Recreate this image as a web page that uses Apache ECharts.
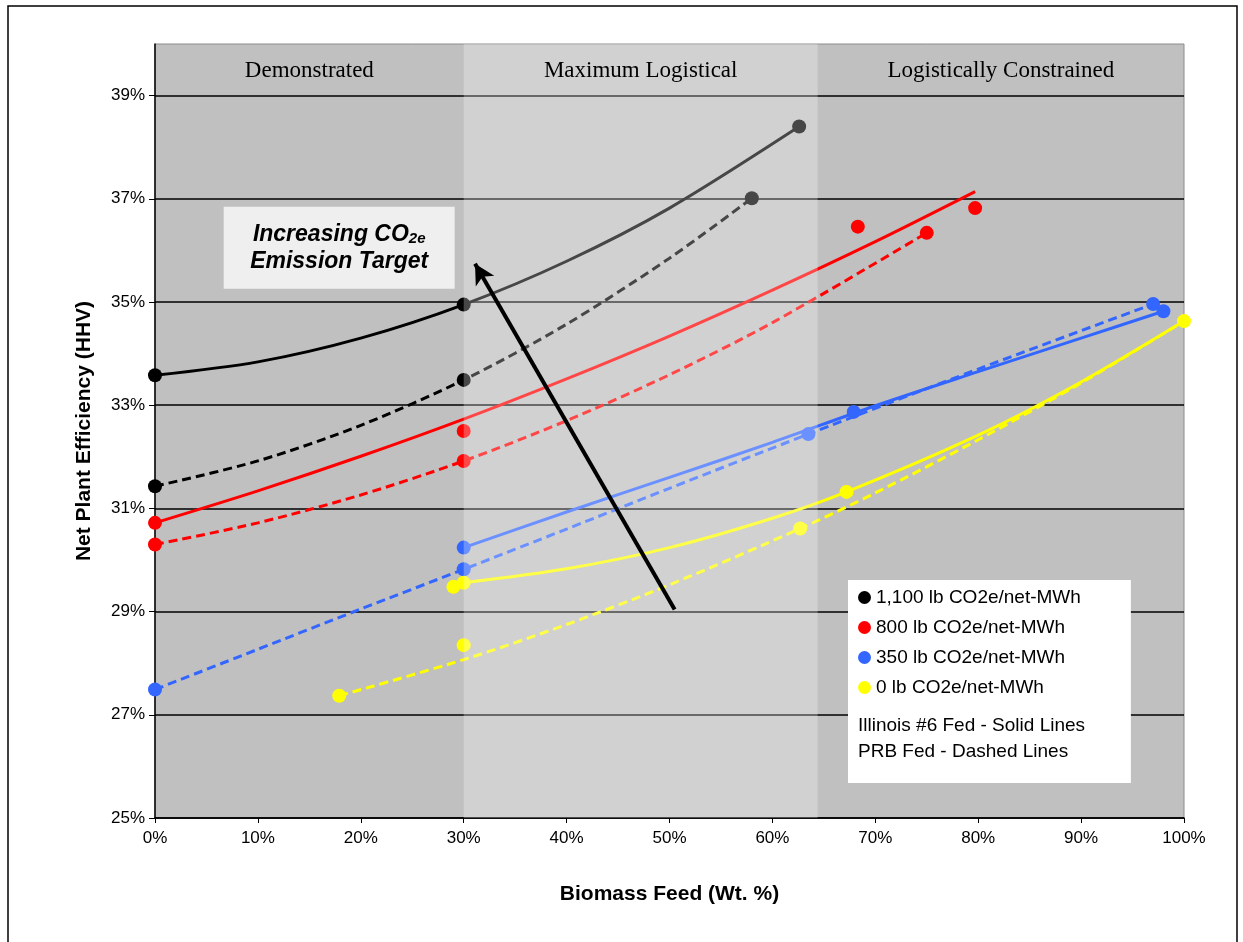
<!DOCTYPE html>
<html>
<head>
<meta charset="utf-8">
<script src="https://cdn.jsdelivr.net/npm/echarts@6/dist/echarts.min.js"></script>
<style>
  html, body { margin: 0; padding: 0; background: #fff; }
  #chart { width: 1243px; height: 942px; }
</style>
</head>
<body>
<div id="chart"></div>
<script>
// legend names
var names = ['1,100 lb CO2e/net-MWh', '800 lb CO2e/net-MWh', '350 lb CO2e/net-MWh', '0 lb CO2e/net-MWh']
var colors = ['#000000', '#ff0000', '#3366ff', '#ffff00']

// region bands along x (biomass %)
var regionNames = ['Demonstrated', 'Maximum Logistical', 'Logistically Constrained']
var regionEdges = [0, 30, 64.4, 100]

// data points (biomass %, efficiency %)
var blackPts = [[0, 33.58], [0, 31.43], [30, 34.95], [30, 33.49], [58, 37.01], [62.6, 38.40]]
var redPts = [[0, 30.72], [0, 30.30], [30, 32.50], [30, 31.92], [68.3, 36.46], [75.0, 36.34], [79.7, 36.82]]
var bluePts = [[0, 27.49], [30, 30.24], [30, 29.82], [63.5, 32.44], [67.9, 32.87], [97, 34.96], [98, 34.82]]
var yellowPts = [[17.9, 27.37], [29.0, 29.48], [30, 29.56], [30, 28.35], [62.7, 30.61], [67.2, 31.32], [100, 34.63]]

// trend lines: Illinois #6 (solid), PRB (dashed)
var blackSolid = [[0, 33.58], [10, 33.84], [20, 34.30], [30, 34.95], [40, 35.79], [50, 36.82], [62.6, 38.40]]
var blackDashed = [[0, 31.43], [10, 31.92], [20, 32.61], [30, 33.49], [40, 34.57], [50, 35.85], [58, 37.01]]
var redSolid = [[0, 30.72], [10, 31.34], [20, 32.01], [30, 32.73], [40, 33.51], [50, 34.34], [60, 35.23], [70, 36.17], [79.7, 37.14]]
var redDashed = [[0, 30.30], [10, 30.72], [20, 31.26], [30, 31.92], [40, 32.70], [50, 33.59], [60, 34.60], [75, 36.34]]
var blueSolid = [[30, 30.24], [40, 30.93], [50, 31.60], [60, 32.28], [70, 32.99], [80, 33.65], [90, 34.30], [98, 34.82]]
var blueDashed = [[0, 27.49], [10, 28.27], [20, 29.05], [30, 29.82], [40, 30.60], [50, 31.39], [63.5, 32.44], [80, 33.70], [97, 34.96]]
var yellowSolid = [[30, 29.56], [40, 29.83], [50, 30.24], [60, 30.81], [67.2, 31.32], [80, 32.42], [90, 33.45], [100, 34.63]]
var yellowDashed = [[17.9, 27.37], [30, 28.07], [40, 28.75], [50, 29.52], [62.7, 30.61], [70, 31.30], [80, 32.33], [90, 33.43], [100, 34.63]]

// arrow start/end
var arrowFrom = [50.5, 29.04]
var arrowTo = [31.1, 35.74]

var chart = echarts.init(document.getElementById('chart'));

function trend(data, color, dashed) {
    return {
        type: 'line',
        data: data,
        smooth: 0.3,
        showSymbol: false,
        silent: true,
        z: 2,
        lineStyle: { color: color, width: 3, type: dashed ? [9, 5] : 'solid' }
    }
}

function dots(name, data, color) {
    return {
        name: name,
        type: 'scatter',
        data: data,
        symbolSize: 14,
        itemStyle: { color: color, opacity: 1 },
        z: 3
    }
}

var series = [
    trend(blackSolid, colors[0], false),
    trend(blackDashed, colors[0], true),
    trend(redSolid, colors[1], false),
    trend(redDashed, colors[1], true),
    trend(blueSolid, colors[2], false),
    trend(blueDashed, colors[2], true),
    trend(yellowSolid, colors[3], false),
    trend(yellowDashed, colors[3], true),
    dots(names[0], blackPts, colors[0]),
    dots(names[1], redPts, colors[1]),
    dots(names[2], bluePts, colors[2]),
    dots(names[3], yellowPts, colors[3]),
    {
        // translucent middle band on top of the lines, with region titles
        type: 'line',
        data: [],
        z: 6,
        silent: true,
        markArea: {
            z: 6,
            silent: true,
            label: {
                position: 'insideTop',
                distance: 15,
                color: '#000',
                fontFamily: 'Liberation Serif',
                fontSize: 23
            },
            data: [
                [{ name: regionNames[0], xAxis: regionEdges[0], itemStyle: { color: 'rgba(0,0,0,0)' } }, { xAxis: regionEdges[1] }],
                [{ name: regionNames[1], xAxis: regionEdges[1], itemStyle: { color: 'rgba(255,255,255,0.28)' } }, { xAxis: regionEdges[2] }],
                [{ name: regionNames[2], xAxis: regionEdges[2], itemStyle: { color: 'rgba(0,0,0,0)' } }, { xAxis: regionEdges[3] }]
            ]
        }
    },
    {
        // arrow and its note
        type: 'line',
        data: [],
        z: 10,
        silent: true,
        markLine: {
            z: 10,
            silent: true,
            symbol: ['none', 'arrow'],
            symbolSize: [16, 20],
            label: { show: false },
            lineStyle: { color: '#000', width: 4, type: 'solid' },
            data: [[{ coord: arrowFrom }, { coord: arrowTo }]]
        },
        markPoint: {
            z: 10,
            silent: true,
            symbol: 'rect',
            symbolSize: [231, 82],
            itemStyle: { color: '#efefef' },
            label: {
                show: true,
                position: 'inside',
                formatter: '{a|Increasing CO}{s|2e}\n{a|Emission Target}',
                rich: {
                    a: { fontFamily: 'Liberation Sans', fontSize: 23, fontWeight: 'bold', fontStyle: 'italic', color: '#000', lineHeight: 27 },
                    s: { fontFamily: 'Liberation Sans', fontSize: 15, fontWeight: 'bold', fontStyle: 'italic', color: '#000', padding: [10, 0, 0, 0] }
                }
            },
            data: [{ coord: [17.9, 36.05] }]
        }
    }
]

var option = {
    animation: false,
    backgroundColor: '#fff',
    textStyle: { fontFamily: 'Liberation Sans' },
    grid: {
        left: 155, right: 59, top: 44, bottom: 124,
        show: true,
        backgroundColor: '#c0c0c0',
        borderColor: '#8c8c8c',
        borderWidth: 1
    },
    legend: {
        data: names,
        orient: 'vertical',
        left: 848,
        top: 580,
        icon: 'circle',
        itemWidth: 13,
        itemHeight: 13,
        itemGap: 11,
        backgroundColor: '#fff',
        padding: [8, 50, 86, 10],
        textStyle: { fontFamily: 'Liberation Sans', fontSize: 19, color: '#000' },
        selectedMode: false
    },
    graphic: [
        {
            type: 'rect',
            shape: { x: 8, y: 6, width: 1229, height: 960 },
            style: { fill: 'none', stroke: '#000', lineWidth: 1.5 },
            z: -1,
            silent: true
        },
        {
            type: 'text',
            left: 858,
            top: 716,
            style: { text: 'Illinois #6 Fed - Solid Lines', fontFamily: 'Liberation Sans', fontSize: 19, fill: '#000' },
            z: 20
        },
        {
            type: 'text',
            left: 858,
            top: 742,
            style: { text: 'PRB Fed - Dashed Lines', fontFamily: 'Liberation Sans', fontSize: 19, fill: '#000' },
            z: 20
        }
    ],
    xAxis: {
        type: 'value',
        min: 0,
        max: 100,
        interval: 10,
        name: 'Biomass Feed (Wt. %)',
        nameLocation: 'middle',
        nameGap: 66,
        nameTextStyle: { fontFamily: 'Liberation Sans', fontSize: 21, fontWeight: 'bold', color: '#000' },
        axisLine: { show: true, lineStyle: { color: '#000', width: 1.5 } },
        axisTick: { show: true, length: 5, lineStyle: { color: '#000' } },
        axisLabel: { formatter: '{value}%', fontSize: 17, color: '#000', margin: 12 },
        splitLine: { show: false }
    },
    yAxis: {
        type: 'value',
        min: 25,
        max: 40,
        interval: 2,
        name: 'Net Plant Efficiency (HHV)',
        nameLocation: 'middle',
        nameGap: 60,
        nameTextStyle: { fontFamily: 'Liberation Sans', fontSize: 21, fontWeight: 'bold', color: '#000' },
        axisLine: { show: true, lineStyle: { color: '#000', width: 1.5 } },
        axisTick: { show: true, length: 6, lineStyle: { color: '#000' } },
        axisLabel: { formatter: '{value}%', fontSize: 17, color: '#000', margin: 10, showMaxLabel: false },
        splitLine: { show: true, showMaxLine: false, lineStyle: { color: '#000', width: 1.5 } }
    },
    series: series
};

chart.setOption(option);
</script>
</body>
</html>
